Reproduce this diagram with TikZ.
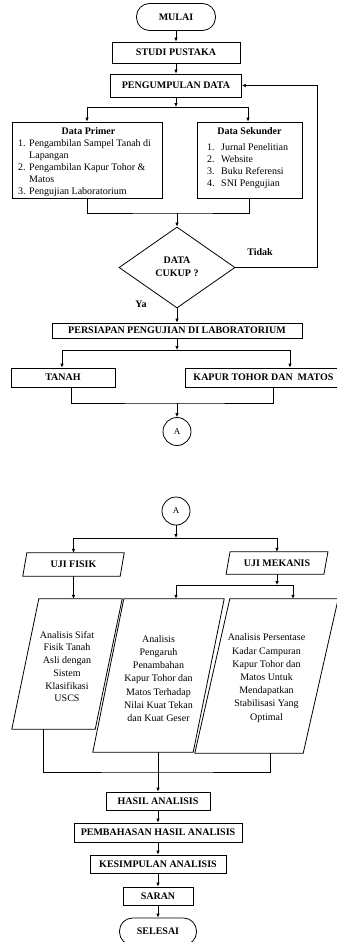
\documentclass[tikz,border=0pt]{standalone}
\usepackage{fontspec}
\setmainfont{Liberation Serif}
\usetikzlibrary{arrows.meta,shapes.geometric,calc}
\newcommand\drawpara[2]{%
  \draw[lw] ($(#1.south west)+(-#2,0)$) -- ($(#1.north west)+(#2,0)$) -- ($(#1.north east)+(#2,0)$) -- ($(#1.south east)+(-#2,0)$) -- cycle;}
\tikzset{
  lw/.style={line width=0.8pt},
  box/.style={draw, lw, rectangle, inner sep=0pt, font=\bfseries\fontsize{10}{12}\selectfont, align=center},
  term/.style={box, rounded corners=13pt},
  dec/.style={draw, lw, diamond, inner sep=0pt, font=\bfseries\fontsize{10}{13}\selectfont, align=center},
  conn/.style={draw, lw, circle, minimum size=28pt, inner sep=0pt, font=\fontsize{9}{11}\selectfont},
  pbox/.style={rectangle, inner sep=0pt, font=\bfseries\fontsize{10}{12}\selectfont, align=center},
  txt/.style={inner sep=0pt, font=\fontsize{10}{12}\selectfont, align=center},
  lbl/.style={inner sep=0pt, font=\bfseries\fontsize{10}{12}\selectfont},
  arr/.style={lw, -{Latex[length=4pt,width=3.6pt]}},
  ln/.style={lw}
}
\begin{document}
\begin{tikzpicture}[x=1pt,y=-1pt]
\useasboundingbox (0,0) rectangle (337,942);
% ---------- top part
\node[term, minimum width=79pt, minimum height=27pt] (mulai) at (176,17) {MULAI};
\node[box, minimum width=128pt, minimum height=21pt] (studi) at (176,52.5) {STUDI PUSTAKA};
\node[box, minimum width=131pt, minimum height=23pt] (kumpul) at (176,85.5) {PENGUMPULAN DATA};
\draw[arr] (mulai) -- (studi);
\draw[arr] (studi) -- (kumpul);
\coordinate (s1) at (176,107);
\coordinate (s1l) at (87,107);
\coordinate (s1r) at (248,107);
\node[box, minimum width=150pt, minimum height=76pt] (prim) at (87,160) {};
\node[box, minimum width=105pt, minimum height=76pt] (sek) at (249.5,160) {};
\draw[arr] (kumpul.south) -- (s1);
\draw[ln] (s1l) -- (s1r);
\draw[arr] (s1l) -- (s1l |- prim.north);
\draw[arr] (s1r) -- (s1r |- sek.north);
\node[lbl] (primT) at (88.5,131) {Data Primer};
\node[lbl] (sekT) at (249.5,131) {Data Sekunder};
\node[txt, anchor=north west, align=left] (primL) at (18,138) {\begin{tabular}{@{}l@{\hspace{3.5pt}}l@{}}1.&Pengambilan Sampel Tanah di\\ &Lapangan\\2.&Pengambilan Kapur Tohor \&\\ &Matos\\3.&Pengujian Laboratorium\end{tabular}};
\node[txt, anchor=north west, align=left] (sekL) at (207,142) {\begin{tabular}{@{}l@{\hspace{6.5pt}}l@{}}1.&Jurnal Penelitian\\2.&Website\\3.&Buku Referensi\\4.&SNI Pengujian\end{tabular}};
\node[dec, minimum width=116pt, minimum height=81pt] (dec) at (177,267.5) {\raisebox{4pt}{\begin{tabular}{@{}c@{}}DATA\\CUKUP ?\end{tabular}}};
\coordinate (j1) at (177,213);
\draw[ln] (prim.south) |- (j1) -| (sek.south);
\draw[arr] (j1) -- (dec.north);
\node[lbl] (tidak) at (260,252) {Tidak};
\coordinate (fb) at (317,267.5);
\draw[arr] (dec.east) -- (fb) -- (fb |- kumpul.east) -- (kumpul.east);
\node[lbl] (ya) at (141,304) {Ya};
\node[box, minimum width=250pt, minimum height=15pt] (siap) at (177,330.5) {PERSIAPAN PENGUJIAN DI LABORATORIUM};
\draw[arr] (dec.south) -- (siap.north);
\coordinate (s2) at (177,350);
\coordinate (s2l) at (62,350);
\coordinate (s2r) at (290,350);
\node[box, minimum width=104pt, minimum height=19pt] (tanah) at (63,377.5) {TANAH};
\node[box, minimum width=157pt, minimum height=19pt] (kapur) at (263.5,377.5) {KAPUR TOHOR DAN\ \ MATOS};
\draw[arr] (siap.south) -- (s2);
\draw[ln] (s2l) -- (s2r);
\draw[arr] (s2l) -- (s2l |- tanah.north);
\draw[arr] (s2r) -- (s2r |- kapur.north);
\node[conn] (a1) at (177,431.5) {A};
\coordinate (j2) at (177,403);
\draw[ln] ($(tanah.south)+(8,0)$) |- (j2) -| ($(kapur.south)+(9.5,0)$);
\draw[arr] (j2) -- (a1.north);
% ---------- second part
\node[conn] (a2) at (176,511) {A};
\coordinate (s3) at (176,538);
\coordinate (s3l) at (73.5,538);
\coordinate (s3r) at (277,538);
\node[pbox, minimum width=97pt, minimum height=23pt] (fisik) at (73.5,564.5) {UJI FISIK};
\drawpara{fisik}{2}
\node[pbox, minimum width=97.5pt, minimum height=22pt] (mek) at (277,563) {UJI MEKANIS};
\drawpara{mek}{2}
\draw[arr] (a2.south) -- (s3);
\draw[ln] (s3l) -- (s3r);
\draw[arr] (s3l) -- (s3l |- fisik.north);
\draw[arr] (s3r) -- (s3r |- mek.north);
\node[pbox, minimum width=83pt, minimum height=130pt] (b1) at (67,664) {};
\drawpara{b1}{13.5}
\node[pbox, minimum width=100pt, minimum height=153pt] (b2) at (158.5,675.5) {};
\drawpara{b2}{15.5}
\node[pbox, minimum width=108pt, minimum height=154pt] (b3) at (266.5,676) {};
\drawpara{b3}{17.5}
\node[txt, font=\fontsize{10}{12.7}\selectfont] (b1t) at (67,666.5) {Analisis Sifat\\Fisik Tanah\\Asli dengan\\Sistem\\Klasifikasi\\USCS};
\node[txt, font=\fontsize{10}{13.2}\selectfont] (b2t) at (158.5,678.5) {Analisis\\Pengaruh\\Penambahan\\Kapur Tohor dan\\Matos Terhadap\\Nilai Kuat Tekan\\dan Kuat Geser};
\node[txt, font=\fontsize{10}{13.2}\selectfont] (b3t) at (266.5,678) {Analisis Persentase\\Kadar Campuran\\Kapur Tohor dan\\Matos Untuk\\Mendapatkan\\Stabilisasi Yang\\Optimal};
\draw[arr] (fisik.south) -- (fisik.south |- b1.north);
\coordinate (s4) at (277,585);
\coordinate (s4l) at (176,585);
\coordinate (s4r) at (293,585);
\draw[arr] (mek.south) -- (s4);
\draw[ln] (s4l) -- (s4r);
\draw[arr] (s4l) -- (s4l |- b2.north);
\draw[arr] (s4r) -- (s4r |- b3.north);
\coordinate (j3) at (158,772);
\node[box, minimum width=104pt, minimum height=18pt] (hasil) at (158,801) {HASIL ANALISIS};
\node[box, minimum width=168pt, minimum height=19pt] (bahas) at (158,832.5) {PEMBAHASAN HASIL ANALISIS};
\node[box, minimum width=136pt, minimum height=18pt] (simpul) at (158,864) {KESIMPULAN ANALISIS};
\node[box, minimum width=70pt, minimum height=18pt] (saran) at (158,896) {SARAN};
\node[term, minimum width=77pt, minimum height=27pt] (selesai) at (158,931.5) {SELESAI};
\draw[ln] ($(b1.south)+(-24,0)$) |- (j3) -| ($(b3.south)+(3.5,0)$);
\draw[ln] (b2.south) -- (b2.south |- j3);
\draw[arr] (j3) -- (hasil.north);
\draw[arr] (hasil) -- (bahas);
\draw[arr] (bahas) -- (simpul);
\draw[arr] (simpul) -- (saran);
\draw[arr] (saran) -- (selesai);
\end{tikzpicture}
\end{document}
